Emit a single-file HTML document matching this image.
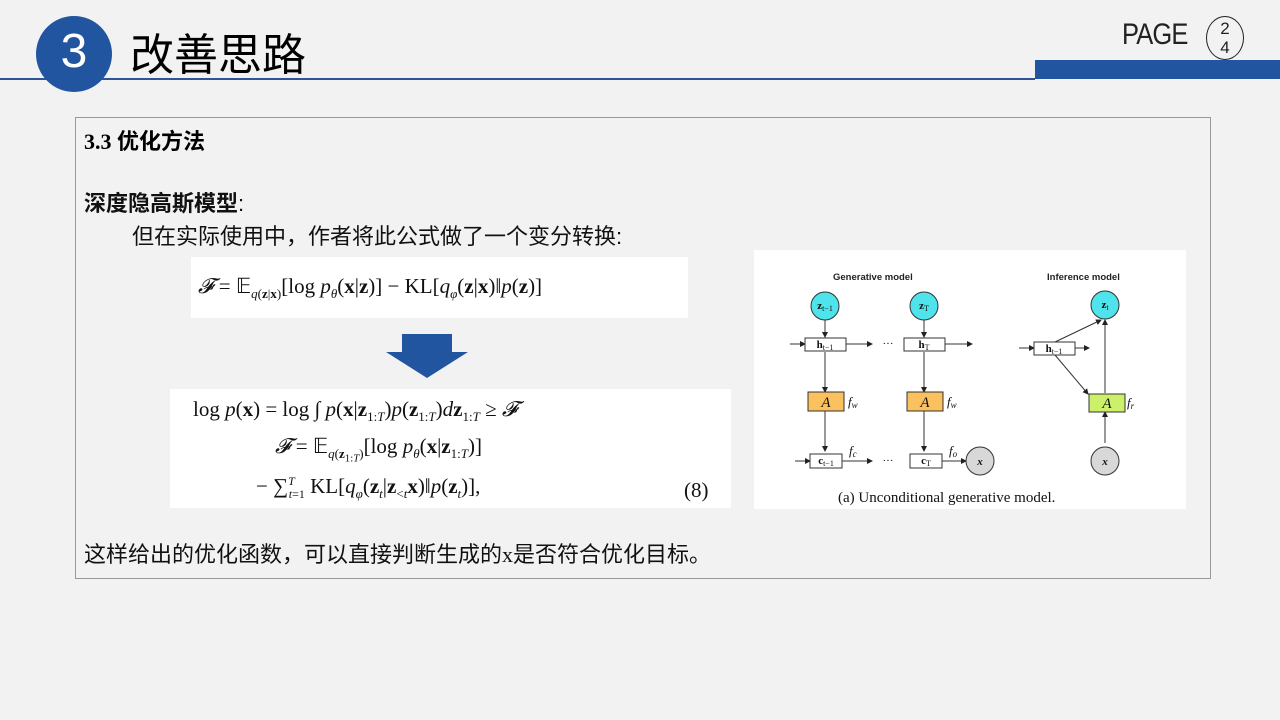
<!DOCTYPE html>
<html><head><meta charset="utf-8"><style>
body{margin:0;width:1280px;height:720px;background:#f2f2f2;position:relative;overflow:hidden;font-family:"Liberation Serif","Noto Serif CJK SC",serif}
.a{position:absolute}
.cj{font-family:"Liberation Sans","Noto Sans CJK SC",sans-serif}
.m{font-family:"Liberation Serif",serif;font-size:21px;white-space:nowrap;color:#111}
i{font-style:italic}
</style></head><body>
<div class="a" style="left:0;top:78px;width:1035px;height:1.5px;background:#2e5596"></div>
<div class="a" style="left:1035px;top:60px;width:245px;height:19px;background:#2155a0"></div>
<div class="a" style="left:36px;top:16px;width:76px;height:76px;border-radius:50%;background:#2155a0;color:#fff;font:48px 'Liberation Sans',sans-serif;text-align:center;line-height:72px">3</div>
<div class="a cj" style="left:130px;top:28px;font-size:44px;color:#000;line-height:56px">改善思路</div>
<div class="a cj" style="left:1122px;top:18px;font-size:30px;color:#222;letter-spacing:-1px;transform:scaleX(0.85);transform-origin:left">PAGE</div>
<div class="a" style="left:1206px;top:16px;width:38px;height:44px;border:1.5px solid #222;border-radius:50%;font:17px 'Liberation Sans',sans-serif;text-align:center;line-height:19px;color:#222;padding-top:2px;box-sizing:border-box">2<br>4</div>

<div class="a" style="left:75px;top:117px;width:1134px;height:460px;border:1px solid #999"></div>
<div class="a" style="left:84px;top:124px;font-size:22px;font-weight:bold;font-family:'Liberation Serif','Noto Sans CJK SC',serif">3.3 优化方法</div>
<div class="a cj" style="left:84px;top:186px;font-size:22px;color:#111"><b>深度隐高斯模型</b>:</div>
<div class="a cj" style="left:132px;top:219px;font-size:22px;color:#111">但在实际使用中，作者将此公式做了一个变分转换:</div>
<div class="a cj" style="left:84px;top:537px;font-size:22px;color:#111">这样给出的优化函数，可以直接判断生成的<span style="font-family:'Liberation Serif',serif">x</span>是否符合优化目标。</div>

<div class="a" style="left:191px;top:257px;width:497px;height:61px;background:#fff"></div>
<div class="a m" style="left:198px;top:274px"><i>𝓕</i> = 𝔼<sub style="font-size:13px"><i>q</i>(<b>z</b>|<b>x</b>)</sub>[log <i>p<sub style="font-size:13px">θ</sub></i>(<b>x</b>|<b>z</b>)] − KL[<i>q<sub style="font-size:13px">φ</sub></i>(<b>z</b>|<b>x</b>)‖<i>p</i>(<b>z</b>)]</div>

<svg class="a" style="left:386px;top:334px" width="82" height="44"><polygon points="16,0 66,0 66,18 82,18 41,44 0,18 16,18" fill="#2155a0"/></svg>

<div class="a" style="left:170px;top:389px;width:561px;height:119px;background:#fff"></div>
<div class="a m" style="left:193px;top:397px">log <i>p</i>(<b>x</b>) = log ∫ <i>p</i>(<b>x</b>|<b>z</b><sub style="font-size:13px">1:<i>T</i></sub>)<i>p</i>(<b>z</b><sub style="font-size:13px">1:<i>T</i></sub>)<i>d</i><b>z</b><sub style="font-size:13px">1:<i>T</i></sub> ≥ <i>𝓕</i></div>
<div class="a m" style="left:275px;top:434px"><i>𝓕</i> = 𝔼<sub style="font-size:13px"><i>q</i>(<b>z</b><sub>1:<i>T</i></sub>)</sub>[log <i>p<sub style="font-size:13px">θ</sub></i>(<b>x</b>|<b>z</b><sub style="font-size:13px">1:<i>T</i></sub>)]</div>
<div class="a m" style="left:256px;top:474px">− ∑<sup style="font-size:12px"><i>T</i></sup><sub style="font-size:12px;margin-left:-6px"><i>t</i>=1</sub> KL[<i>q<sub style="font-size:13px">φ</sub></i>(<b>z</b><sub style="font-size:13px"><i>t</i></sub>|<b>z</b><sub style="font-size:13px">&lt;<i>t</i></sub><b>x</b>)‖<i>p</i>(<b>z</b><sub style="font-size:13px"><i>t</i></sub>)],</div>
<div class="a m" style="left:684px;top:478px">(8)</div>

<svg class="a" style="left:754px;top:250px" width="432" height="259" viewBox="0 0 432 259" font-family="Liberation Serif">
<defs><marker id="ar" markerWidth="6" markerHeight="6" refX="5" refY="3" orient="auto"><path d="M0,0L6,3L0,6z" fill="#222"/></marker></defs>
<rect width="432" height="259" fill="#fff"/>
<g font-family="Liberation Sans" font-weight="bold" font-size="9.5" fill="#222"><text x="79" y="30">Generative model</text><text x="293" y="30">Inference model</text></g>
<g stroke="#333" stroke-width="1" fill="none" marker-end="url(#ar)">
<line x1="71" y1="68" x2="71" y2="87"/><line x1="170" y1="68" x2="170" y2="87"/>
<line x1="36" y1="94" x2="51" y2="94"/><line x1="92" y1="94" x2="118" y2="94"/><line x1="191" y1="94" x2="218" y2="94"/>
<line x1="71" y1="102" x2="71" y2="142"/><line x1="170" y1="102" x2="170" y2="142"/>
<line x1="71" y1="161" x2="71" y2="201"/><line x1="170" y1="161" x2="170" y2="201"/>
<line x1="41" y1="211" x2="56" y2="211"/><line x1="88" y1="211" x2="118" y2="211"/><line x1="188" y1="211" x2="212" y2="211"/>
<line x1="265" y1="98" x2="280" y2="98"/><line x1="321" y1="98" x2="335" y2="98"/>
<line x1="301" y1="92" x2="347" y2="70"/><line x1="301" y1="105" x2="334" y2="144"/>
<line x1="351" y1="143" x2="351" y2="70"/><line x1="351" y1="193" x2="351" y2="162"/>
</g>
<g stroke="#333" stroke-width="1">
<circle cx="71" cy="56" r="14" fill="#4fe3ec"/><circle cx="170" cy="56" r="14" fill="#4fe3ec"/><circle cx="351" cy="55" r="14" fill="#4fe3ec"/>
<circle cx="226" cy="211" r="14" fill="#d8d8d8"/><circle cx="351" cy="211" r="14" fill="#d8d8d8"/>
<rect x="51" y="88" width="41" height="13" fill="#fff"/><rect x="150" y="88" width="41" height="13" fill="#fff"/><rect x="280" y="92" width="41" height="13" fill="#fff"/>
<rect x="54" y="142" width="36" height="19" fill="#fbc15e"/><rect x="153" y="142" width="36" height="19" fill="#fbc15e"/><rect x="335" y="144" width="36" height="18" fill="#cdf06a"/>
<rect x="56" y="204" width="32" height="14" fill="#fff"/><rect x="156" y="204" width="32" height="14" fill="#fff"/>
</g>
<g font-size="11" fill="#111" text-anchor="middle">
<text x="71" y="59"><tspan font-weight="bold">z</tspan><tspan font-size="8" dy="2">t−1</tspan></text><text x="170" y="59"><tspan font-weight="bold">z</tspan><tspan font-size="8" dy="2">T</tspan></text><text x="351" y="58"><tspan font-weight="bold">z</tspan><tspan font-size="8" dy="2">t</tspan></text>
<text x="71" y="98"><tspan font-weight="bold">h</tspan><tspan font-size="8" dy="2">t−1</tspan></text><text x="170" y="98"><tspan font-weight="bold">h</tspan><tspan font-size="8" dy="2">T</tspan></text><text x="300" y="102"><tspan font-weight="bold">h</tspan><tspan font-size="8" dy="2">t−1</tspan></text>
<text x="72" y="214"><tspan font-weight="bold">c</tspan><tspan font-size="8" dy="2">t−1</tspan></text><text x="172" y="214"><tspan font-weight="bold">c</tspan><tspan font-size="8" dy="2">T</tspan></text>
<text x="226" y="215" font-style="italic" font-weight="bold">x</text><text x="351" y="215" font-style="italic" font-weight="bold">x</text>
<g font-style="italic" font-size="15"><text x="72" y="157">A</text><text x="171" y="157">A</text><text x="353" y="158">A</text></g>
<text x="134" y="97">···</text><text x="134" y="214">···</text>
</g>
<g font-size="13" font-style="italic" fill="#111"><text x="94" y="156">f<tspan font-size="9" dy="2">w</tspan></text><text x="193" y="156">f<tspan font-size="9" dy="2">w</tspan></text><text x="373" y="157">f<tspan font-size="9" dy="2">r</tspan></text><text x="95" y="205">f<tspan font-size="9" dy="2">c</tspan></text><text x="195" y="205">f<tspan font-size="9" dy="2">o</tspan></text></g>
<text x="84" y="252" font-size="15" fill="#111">(a) Unconditional generative model.</text>
</svg>
</body></html>
